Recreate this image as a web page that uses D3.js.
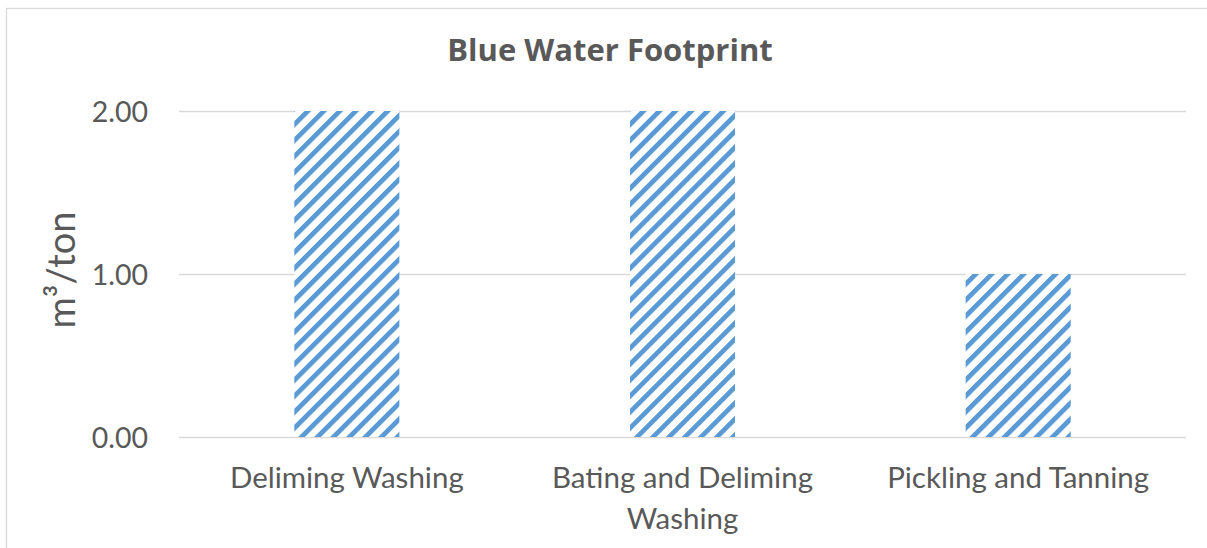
<!DOCTYPE html>
<html>
<head>
<meta charset="utf-8">
<script src="https://cdn.jsdelivr.net/npm/d3@7"></script>
<style>
  html, body { margin: 0; padding: 0; background: #fff; }
  svg { display: block; font-family: Lato, "Open Sans", sans-serif; }
</style>
</head>
<body>
<svg id="chart" width="1207" height="548"></svg>
<script>
// Blue water footprint per process step (m³ per ton)
const categories = ["Deliming Washing", "Bating and Deliming Washing", "Pickling and Tanning"];
const values = [2, 2, 1];
const yTicks = [0, 1, 2];
const chartTitle = "Blue Water Footprint";
const yTitle = "m³/ton";

const W = 1207, H = 548;
const plot = { left: 179, right: 1186, top: 111, bottom: 437 };
const barColor = "#5B9BD5";
const textColor = "#595959";
const gridColor = "#D9D9D9";

const svg = d3.select("#chart");

// striped fill for the bars
const defs = svg.append("defs");
const pat = defs.append("pattern")
  .attr("id", "stripes")
  .attr("patternUnits", "userSpaceOnUse")
  .attr("width", 11.3)
  .attr("height", 11.3)
  .attr("patternTransform", "rotate(45)");
pat.append("rect").attr("width", 11.3).attr("height", 11.3).attr("fill", "#fff");
pat.append("rect").attr("x", 0).attr("y", 0).attr("width", 4.8).attr("height", 11.3).attr("fill", barColor);

// outer chart border
svg.append("rect")
  .attr("x", 6.5).attr("y", 8.5)
  .attr("width", W + 10).attr("height", H + 10)
  .attr("fill", "none")
  .attr("stroke", gridColor)
  .attr("stroke-width", 1.3);

const x = d3.scaleBand()
  .domain(categories)
  .range([plot.left, plot.right])
  .paddingInner(0.687)
  .paddingOuter(0.3435);

const y = d3.scaleLinear()
  .domain([0, 2])
  .range([plot.bottom, plot.top]);

// horizontal gridlines
svg.append("g")
  .selectAll("line")
  .data(yTicks)
  .join("line")
  .attr("x1", plot.left)
  .attr("x2", plot.right)
  .attr("y1", d => Math.round(y(d)) + 0.5)
  .attr("y2", d => Math.round(y(d)) + 0.5)
  .attr("stroke", gridColor)
  .attr("stroke-width", 1.5);

// bars
svg.append("g")
  .selectAll("rect")
  .data(values)
  .join("rect")
  .attr("x", (d, i) => x(categories[i]))
  .attr("y", d => y(d))
  .attr("width", x.bandwidth())
  .attr("height", d => y(0) - y(d))
  .attr("fill", "url(#stripes)");

// y axis tick labels
const yAxis = d3.axisLeft(y)
  .tickValues(yTicks)
  .tickFormat(d3.format(".2f"))
  .tickSize(0)
  .tickPadding(0);
const gy = svg.append("g")
  .attr("transform", `translate(148,0)`)
  .call(yAxis);
gy.select(".domain").remove();
gy.selectAll("text")
  .attr("fill", textColor)
  .style("font-family", "Lato, sans-serif")
  .style("font-size", "28.5px")
  .attr("dy", "0.36em");

// category labels, wrapped to the band
const labelY = 51, lineGap = 41;
const xAxis = d3.axisBottom(x).tickSize(0).tickPadding(0);
const gx = svg.append("g")
  .attr("transform", `translate(0,${plot.bottom})`)
  .call(xAxis);
gx.select(".domain").remove();
gx.selectAll("text")
  .attr("fill", textColor)
  .style("font-family", "Lato, sans-serif")
  .style("font-size", "29.5px")
  .attr("y", labelY)
  .attr("dy", 0)
  .each(function(d) {
    const t = d3.select(this);
    const words = d.split(" ");
    t.text(null);
    let line = [];
    let tspan = t.append("tspan").attr("x", 0).attr("y", labelY);
    let lineNo = 0;
    for (const w of words) {
      line.push(w);
      tspan.text(line.join(" "));
      if (tspan.node().getComputedTextLength() > 300 && line.length > 1) {
        line.pop();
        tspan.text(line.join(" "));
        line = [w];
        lineNo++;
        tspan = t.append("tspan").attr("x", 0).attr("y", labelY + lineNo * lineGap).text(w);
      }
    }
  });

// title
svg.append("text")
  .attr("x", 610)
  .attr("y", 61)
  .attr("text-anchor", "middle")
  .attr("fill", textColor)
  .style("font-family", "'Open Sans', sans-serif")
  .style("font-size", "31px")
  .style("font-weight", "bold")
  .text(chartTitle);

// y axis title
svg.append("text")
  .attr("transform", `translate(75,${(plot.top + plot.bottom) / 2 - 4}) rotate(-90)`)
  .attr("text-anchor", "middle")
  .attr("fill", textColor)
  .style("font-size", "38px")
  .text(yTitle);
</script>
</body>
</html>
